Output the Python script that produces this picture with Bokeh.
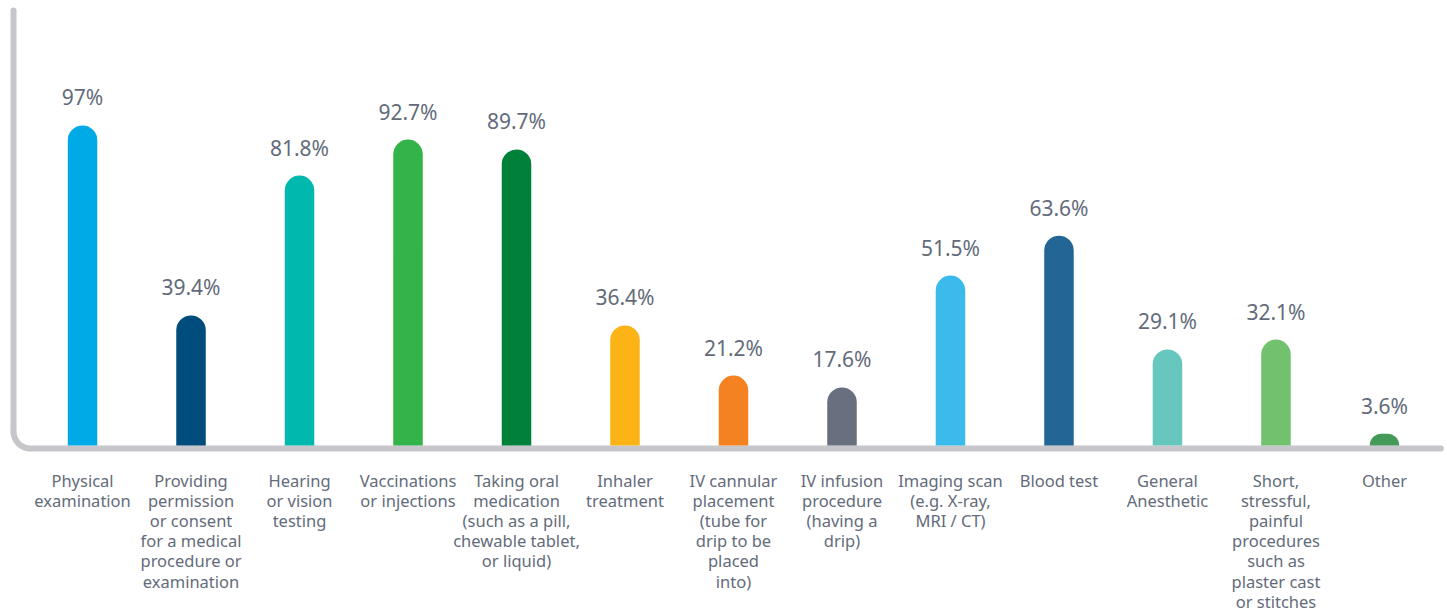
import math
from bokeh.plotting import figure
from bokeh.models import ColumnDataSource, Range1d
from bokeh.core.properties import value
from bokeh.embed import file_html
from bokeh.resources import INLINE

categories = [
    "Physical\nexamination",
    "Providing\npermission\nor consent\nfor a medical\nprocedure or\nexamination",
    "Hearing\nor vision\ntesting",
    "Vaccinations\nor injections",
    "Taking oral\nmedication\n(such as a pill,\nchewable tablet,\nor liquid)",
    "Inhaler\ntreatment",
    "IV cannular\nplacement\n(tube for\ndrip to be\nplaced\ninto)",
    "IV infusion\nprocedure\n(having a\ndrip)",
    "Imaging scan\n(e.g. X-ray,\nMRI / CT)",
    "Blood test",
    "General\nAnesthetic",
    "Short,\nstressful,\npainful\nprocedures\nsuch as\nplaster cast\nor stitches",
    "Other",
]
values = [97, 39.4, 81.8, 92.7, 89.7, 36.4, 21.2, 17.6, 51.5, 63.6, 29.1, 32.1, 3.6]
value_labels = ["97%", "39.4%", "81.8%", "92.7%", "89.7%", "36.4%", "21.2%",
                "17.6%", "51.5%", "63.6%", "29.1%", "32.1%", "3.6%"]
colors = ["#00aae7", "#004c7d", "#00b8ad", "#33b34a", "#008139", "#fbb316",
          "#f58220", "#686f7e", "#3bbbeb", "#236595", "#67c7be", "#72c16f",
          "#459a5a"]

xs = list(range(len(categories)))
src = ColumnDataSource(dict(x=xs, top=values, cat=categories,
                            lab=value_labels, color=colors))

W, H = 1447, 612
X0, X1 = -0.756, 12.581
Y0, Y1 = -50.6, 134.85
p = figure(width=W, height=H, x_range=Range1d(X0, X1), y_range=Range1d(Y0, Y1),
           output_backend="svg", toolbar_location=None,
           x_axis_location=None, y_axis_location=None,
           min_border=0, min_border_left=0, min_border_right=0,
           min_border_top=0, min_border_bottom=0)
p.grid.visible = False
p.outline_line_color = None
p.background_fill_color = "white"
p.border_fill_color = "white"

# axis frame (decoration) with rounded corner
axis_color = "#c6c6cb"
ax_x = -0.636
ax_top = 131.8
ax_y = -0.91
r_px = 17
px_per_x = W / (X1 - X0)
px_per_y = H / (Y1 - Y0)
cx = ax_x + r_px / px_per_x
cy = ax_y + r_px / px_per_y
p.line([ax_x, ax_x], [ax_top, cy], line_color=axis_color, line_width=6, line_cap="round")
p.line([cx, 12.52], [ax_y, ax_y], line_color=axis_color, line_width=6, line_cap="round")
p.arc(x=[cx], y=[cy], radius=r_px, radius_units="screen",
      start_angle=math.pi, end_angle=1.5 * math.pi, direction="anticlock",
      line_color=axis_color, line_width=6)

p.vbar(x="x", top="top", bottom=0, width=0.272, fill_color="color",
       line_color=None, border_radius=(15, 15, 0, 0), source=src)

p.text(x="x", y="top", text="lab", source=src, y_offset=-28,
       text_align="center", text_baseline="alphabetic",
       text_font=value("Noto Sans"), text_font_size="21px", text_color="#636b7a")

p.text(x="x", y=0, text="cat", source=src, y_offset=23,
       text_align="center", text_baseline="top", text_line_height=0.88,
       text_font=value("Noto Sans"), text_font_size="16.5px", text_color="#636b7a")

open("out.html", "w").write(file_html(p, INLINE))
